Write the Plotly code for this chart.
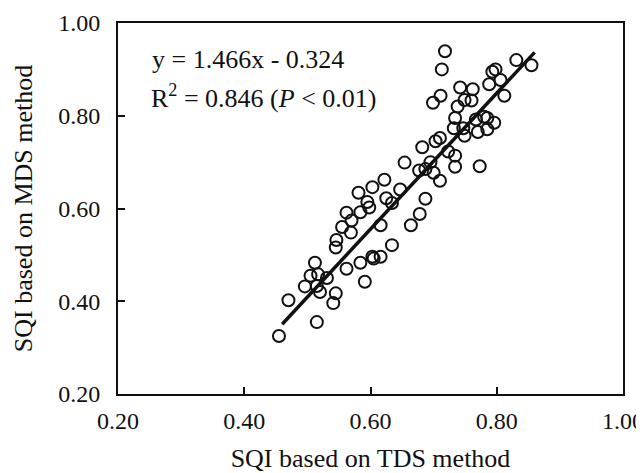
import plotly.graph_objects as go

tds = [0.455, 0.470, 0.515, 0.496, 0.505, 0.512, 0.517, 0.515, 0.520, 0.531,
       0.541, 0.545, 0.545, 0.546, 0.562, 0.555, 0.562, 0.569, 0.570, 0.581,
       0.584, 0.584, 0.591, 0.595, 0.598, 0.603, 0.603, 0.605, 0.616, 0.616,
       0.622, 0.625, 0.634, 0.634, 0.647, 0.654, 0.664, 0.678, 0.682, 0.677,
       0.687, 0.687, 0.695, 0.700, 0.699, 0.703, 0.710, 0.711, 0.710, 0.713,
       0.718, 0.723, 0.734, 0.734, 0.732, 0.734, 0.738, 0.742, 0.747, 0.749,
       0.749, 0.760, 0.762, 0.770, 0.767, 0.773, 0.780, 0.785, 0.785, 0.788,
       0.793, 0.798, 0.796, 0.806, 0.812, 0.831, 0.855]
mds = [0.325, 0.402, 0.355, 0.432, 0.455, 0.483, 0.458, 0.433, 0.420, 0.450,
       0.396, 0.417, 0.516, 0.532, 0.470, 0.560, 0.591, 0.548, 0.574, 0.634,
       0.592, 0.483, 0.442, 0.614, 0.602, 0.646, 0.496, 0.492, 0.496, 0.564,
       0.662, 0.622, 0.521, 0.612, 0.641, 0.699, 0.564, 0.588, 0.732, 0.682,
       0.621, 0.685, 0.700, 0.677, 0.828, 0.745, 0.752, 0.843, 0.660, 0.900,
       0.939, 0.723, 0.714, 0.690, 0.773, 0.795, 0.820, 0.861, 0.773, 0.757,
       0.834, 0.833, 0.857, 0.765, 0.792, 0.691, 0.798, 0.771, 0.795, 0.868,
       0.895, 0.900, 0.785, 0.877, 0.843, 0.920, 0.909]

slope = 1.466
intercept = -0.324
fit_x = [0.46, 0.86]
fit_y = [slope * v + intercept for v in fit_x]

ticks = [0.20, 0.40, 0.60, 0.80, 1.00]
tick_text = ["0.20", "0.40", "0.60", "0.80", "1.00"]

FONT = "Liberation Serif"
INK = "#111111"

fig = go.Figure()
fig.add_trace(go.Scatter(
    x=tds, y=mds, mode="markers",
    marker=dict(symbol="circle-open", size=12, color=INK,
                line=dict(width=2, color=INK)),
    showlegend=False, hoverinfo="skip", cliponaxis=False))
fig.add_trace(go.Scatter(
    x=fit_x, y=fit_y, mode="lines",
    line=dict(color=INK, width=3.5), showlegend=False))

axis_common = dict(
    range=[0.2, 1.0], tickvals=ticks, ticktext=tick_text,
    showgrid=False, zeroline=False, showline=True, linecolor=INK,
    linewidth=2, mirror=True, ticks="inside", ticklen=7, tickwidth=1.5,
    tickcolor=INK, ticklabeloverflow="allow", automargin=False,
    tickfont=dict(family=FONT, size=24, color=INK))

fig.update_xaxes(**axis_common, ticklabelstandoff=4,
                 title=dict(text="SQI based on TDS method",
                            font=dict(family=FONT, size=26, color=INK),
                            standoff=16))
fig.update_yaxes(**axis_common, ticklabelstandoff=11,
                 title=dict(text="SQI based on MDS method",
                            font=dict(family=FONT, size=26, color=INK),
                            standoff=18))

fig.add_annotation(x=0.064, y=0.902, xref="paper", yref="paper",
                   text="y = 1.466x - 0.324", showarrow=False,
                   xanchor="left", yanchor="middle",
                   font=dict(family=FONT, size=26, color=INK))
fig.add_annotation(x=0.062, y=0.803, xref="paper", yref="paper",
                   text="R<sup>2</sup> = 0.846 (<i>P</i> < 0.01)", showarrow=False,
                   xanchor="left", yanchor="middle",
                   font=dict(family=FONT, size=26, color=INK))

# the page body adds an 8px offset; margins compensate for it
fig.update_layout(
    width=644, height=473,
    margin=dict(l=110, r=29, t=15, b=87),
    paper_bgcolor="white", plot_bgcolor="white",
    font=dict(family=FONT, color=INK))

fig.write_html("out.html")
